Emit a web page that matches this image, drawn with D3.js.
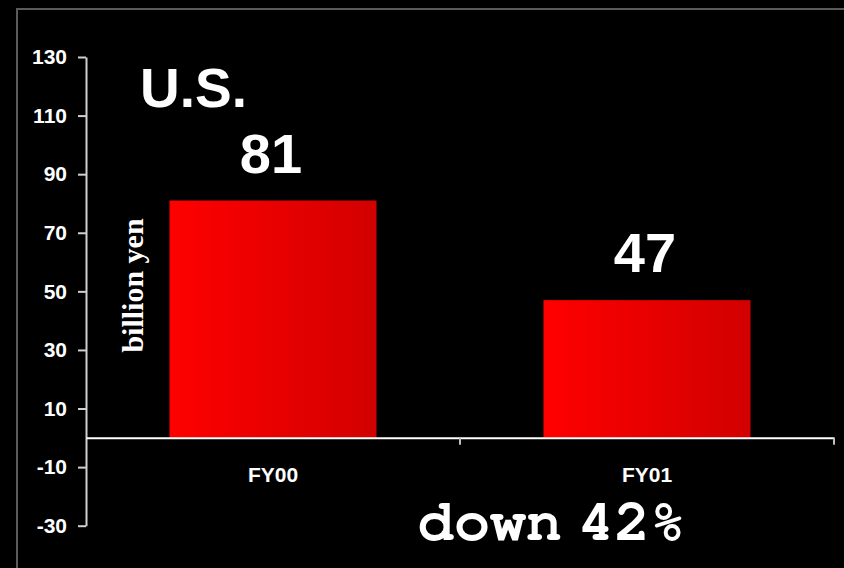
<!DOCTYPE html>
<html>
<head>
<meta charset="utf-8">
<script src="https://cdn.jsdelivr.net/npm/d3@7"></script>
<style>
  html, body { margin: 0; padding: 0; background: #000; }
  svg { display: block; }
  .mono { font-family: "FreeMono", "Courier New", "Liberation Mono", monospace; }
</style>
</head>
<body>
<svg id="chart" width="844" height="568"></svg>
<script>
const categories = ["FY00", "FY01"];
const values = [81, 47];
const yTicks = [130, 110, 90, 70, 50, 30, 10, -10, -30];
const yDomain = [-30, 130];
const title = "U.S.";
const yLabel = "billion yen";
const note = "down 42%";

const svg = d3.select("#chart");
const W = 844, H = 568;
svg.append("rect").attr("width", W).attr("height", H).attr("fill", "#000");

// frame
svg.append("rect").attr("x", 17).attr("y", 9).attr("width", 900).attr("height", 700)
  .attr("fill", "none").attr("stroke", "#5a5a5a").attr("stroke-width", 2);

const defs = svg.append("defs");
const grad = defs.append("linearGradient").attr("id", "barGrad")
  .attr("x1", "0%").attr("x2", "100%").attr("y1", "0%").attr("y2", "0%");
grad.append("stop").attr("offset", "0%").attr("stop-color", "#ff0000");
grad.append("stop").attr("offset", "100%").attr("stop-color", "#d20000");

const x0 = 86, x1 = 834;
const y = d3.scaleLinear().domain(yDomain).range([525.7, 57]);
const x = d3.scaleBand().domain(categories).range([x0, x1])
  .paddingInner(0.4465).paddingOuter(0.4465 / 2);

// bars
svg.selectAll("rect.bar").data(values).enter().append("rect")
  .attr("class", "bar")
  .attr("x", (d, i) => x(categories[i]))
  .attr("width", x.bandwidth())
  .attr("y", d => y(Math.max(0, d)))
  .attr("height", d => Math.abs(y(d) - y(0)))
  .attr("fill", "url(#barGrad)");

// y axis
const yAxis = d3.axisLeft(y).tickValues(yTicks).tickSize(8).tickPadding(11).tickSizeOuter(0)
  .tickFormat(d => String(d));
const gy = svg.append("g").attr("transform", `translate(${x0},0)`).call(yAxis);
gy.select(".domain").attr("stroke", "#d0d0d0").attr("stroke-width", 2);
gy.selectAll(".tick line").attr("stroke", "#d0d0d0").attr("stroke-width", 2);
gy.selectAll(".tick text").attr("fill", "#fff")
  .style("font-family", "Arial, 'Liberation Sans', sans-serif")
  .style("font-weight", "bold").style("font-size", "21px");

// x axis
const xEdges = d3.scaleOrdinal().domain(categories).range([x0 + x.step(), x1]);
const xAxisLine = d3.axisBottom(d3.scaleLinear().domain([0, 1]).range([x0, x1]))
  .tickValues([]).tickSizeOuter(0);
const gx = svg.append("g").attr("transform", `translate(0,${y(0)})`).call(xAxisLine);
gx.select(".domain").attr("stroke", "#ffffff").attr("stroke-width", 2);
gx.selectAll(".edge").data(categories).enter().append("line")
  .attr("class", "edge")
  .attr("x1", d => xEdges(d)).attr("x2", d => xEdges(d))
  .attr("y1", 0).attr("y2", 7)
  .attr("stroke", "#c0c0c0").attr("stroke-width", 2);
gx.selectAll(".cat").data(categories).enter().append("text")
  .attr("class", "cat")
  .attr("x", d => x(d) + x.bandwidth() / 2)
  .attr("y", 44)
  .attr("text-anchor", "middle")
  .attr("fill", "#fff")
  .style("font-family", "Arial, 'Liberation Sans', sans-serif")
  .style("font-weight", "bold").style("font-size", "21px")
  .text(d => d);

// value labels
svg.selectAll("text.val").data(values).enter().append("text")
  .attr("class", "val")
  .attr("x", (d, i) => x(categories[i]) + x.bandwidth() / 2 - 2)
  .attr("y", d => y(d) - 28)
  .attr("text-anchor", "middle")
  .attr("fill", "#fff")
  .style("font-family", "Arial, 'Liberation Sans', sans-serif")
  .style("font-weight", "bold").style("font-size", "56px")
  .text(d => d);

// title
svg.append("text").attr("x", 140).attr("y", 107)
  .attr("fill", "#fff")
  .style("font-family", "Arial, 'Liberation Sans', sans-serif")
  .style("font-weight", "bold").style("font-size", "55px")
  .text(title);

// y label
svg.append("text")
  .attr("transform", "translate(143,285.5) rotate(-90)")
  .attr("text-anchor", "middle")
  .attr("fill", "#fff")
  .style("font-family", "'Times New Roman', 'Liberation Serif', serif")
  .style("font-weight", "bold").style("font-size", "30px")
  .text(yLabel);

// note
svg.append("text").attr("class", "mono").attr("x", 418).attr("y", 540)
  .attr("fill", "#fff")
  .attr("font-weight", "bold").attr("font-size", "60px")
  .attr("word-spacing", "-20px")
  .text(note);
</script>
</body>
</html>
